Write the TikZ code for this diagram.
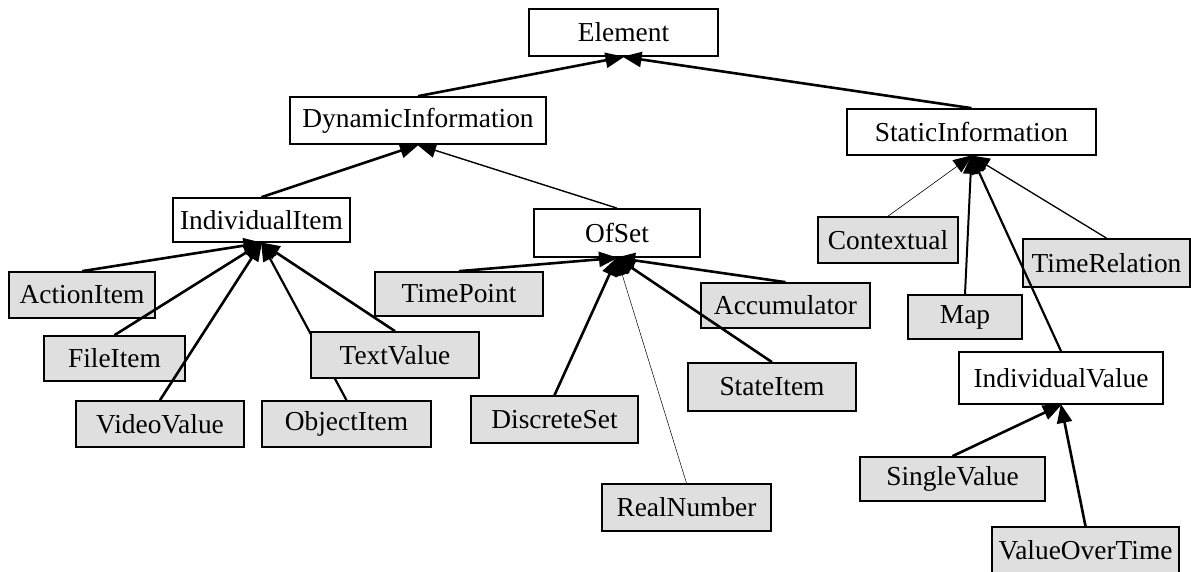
\documentclass[tikz,border=0pt]{standalone}
\usepackage{fontspec}
\setmainfont{Liberation Serif}
\usetikzlibrary{arrows.meta}
\pgfdeclarelayer{background}
\pgfsetlayers{background,main}
\tikzset{
  cls/.style={draw=black, line width=1.7pt, fill=white, inner sep=0pt,
    font=\fontsize{27.4}{30}\selectfont},
  leaf/.style={cls, fill=gray!25},
  inh/.style={line width=2.6pt, -{Triangle[length=19pt,width=15pt]}, shorten >=-1pt},
}
\begin{document}
\begin{tikzpicture}[x=1pt,y=-1pt]
\useasboundingbox (0,0) rectangle (1191,571);
% inner classes
\node[cls, minimum width=189pt, minimum height=47pt] (el) at (623.5,32.5) {Element};
\node[cls, minimum width=256pt, minimum height=47pt] (di) at (418,120.5) {DynamicInformation};
\node[cls, minimum width=249pt, minimum height=46pt] (si) at (971.5,132) {StaticInformation};
\node[cls, minimum width=177pt, minimum height=44pt] (ii) at (261.5,220) {IndividualItem};
\node[cls, minimum width=166pt, minimum height=48pt] (os) at (617,233) {OfSet};
\node[cls, minimum width=204pt, minimum height=52pt] (iv) at (1061,378) {IndividualValue};
% leaves
\node[leaf, minimum width=146pt, minimum height=46pt] (ai) at (82,295) {ActionItem};
\node[leaf, minimum width=141pt, minimum height=45pt] (fi) at (114.5,358.5) {FileItem};
\node[leaf, minimum width=168pt, minimum height=46pt] (vv) at (160,424) {VideoValue};
\node[leaf, minimum width=169pt, minimum height=46pt] (oi) at (346.5,424) {ObjectItem};
\node[leaf, minimum width=168pt, minimum height=46pt] (tv) at (395,355) {TextValue};
\node[leaf, minimum width=168pt, minimum height=44pt] (tp) at (459,294) {TimePoint};
\node[leaf, minimum width=167pt, minimum height=47pt] (ds) at (554.5,419.5) {DiscreteSet};
\node[leaf, minimum width=169pt, minimum height=45pt] (ac) at (785.5,305.5) {Accumulator};
\node[leaf, minimum width=168pt, minimum height=48pt] (st) at (772,387) {StateItem};
\node[leaf, minimum width=169pt, minimum height=47pt] (rn) at (686.5,507.5) {RealNumber};
\node[leaf, minimum width=140pt, minimum height=46pt] (cx) at (888,240) {Contextual};
\node[leaf, minimum width=114pt, minimum height=44pt] (mp) at (965,317) {Map};
\node[leaf, minimum width=167pt, minimum height=48pt] (tr) at (1106.5,263) {TimeRelation};
\node[leaf, minimum width=185pt, minimum height=44pt] (sv) at (952.5,479) {SingleValue};
\node[leaf, minimum width=187pt, minimum height=46pt] (vt) at (1085.5,550) {ValueOverTime};
% edges
\draw[inh] (di.north) -- (el.south);
\draw[inh] (si.north) -- (el.south);
\draw[inh] (ii.north) -- (di.south);
\draw[inh, line width=1.4pt] (os.north) -- (di.south);
\draw[inh] (ai.north) -- (ii.south);
\draw[inh] (fi.north) -- (ii.south);
\draw[inh] (vv.north) -- (ii.south);
\draw[inh] (tv.north) -- (ii.south);
\begin{pgfonlayer}{background}
\draw[inh, line width=2.2pt] (oi.north) -- (ii.south);
\end{pgfonlayer}
\draw[inh] (tp.north) -- (os.south);
\draw[inh] (ds.north) -- (os.south);
\draw[inh, line width=0.5pt] (rn.north) -- (os.south);
\draw[inh] (st.north) -- (os.south);
\draw[inh] (ac.north) -- (os.south);
\draw[inh, line width=0.6pt] (cx.north) -- (si.south);
\draw[inh, line width=2pt] (mp.north) -- (si.south);
\draw[inh, line width=2.2pt] (iv.north) -- (si.south);
\draw[inh, line width=1.3pt] (tr.north) -- (si.south);
\draw[inh] (sv.north) -- (iv.south);
\draw[inh] (vt.north) -- (iv.south);
\end{tikzpicture}
\end{document}
